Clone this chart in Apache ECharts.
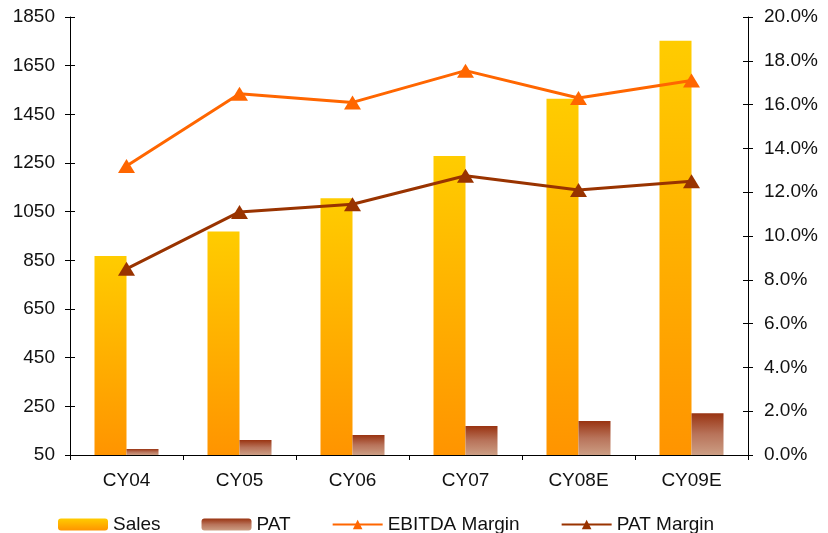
<!DOCTYPE html>
<html>
<head>
<meta charset="utf-8">
<script src="https://cdn.jsdelivr.net/npm/echarts@6/dist/echarts.min.js"></script>
<style>
  html, body { margin: 0; padding: 0; background: #fff; }
  #chart { width: 828px; height: 533px; }
</style>
</head>
<body>
<div id="chart"></div>
<script>
// Financial summary: Sales and PAT (left axis), margins in % (right axis)
const categories = ['CY04', 'CY05', 'CY06', 'CY07', 'CY08E', 'CY09E'];
const sales = [868, 968, 1105, 1279, 1514, 1752];
const pat = [75, 112, 132, 169, 190, 222];
const ebitdaMargin = [13.2, 16.5, 16.1, 17.55, 16.3, 17.1];
const patMargin = [8.5, 11.1, 11.45, 12.75, 12.1, 12.5];

const leftAxis = { min: 50, max: 1850, interval: 200 };
const rightAxis = { min: 0, max: 20, interval: 2 };

const FONT = 'Liberation Sans, Arial, sans-serif';
const TEXT = '#111';
const FS = 19;

const salesFill = new echarts.graphic.LinearGradient(0, 0, 0, 1, [
  { offset: 0, color: '#FFCC00' },
  { offset: 1, color: '#FF9400' }
]);
const patFill = new echarts.graphic.LinearGradient(0, 0, 0, 1, [
  { offset: 0, color: '#993311' },
  { offset: 0.5, color: '#B8735A' },
  { offset: 1, color: '#CC9E84' }
]);

const chart = echarts.init(document.getElementById('chart'), null, { renderer: 'canvas' });

const axisLine = { show: true, lineStyle: { color: '#000', width: 1 } };

chart.setOption({
  animation: false,
  backgroundColor: '#fff',
  textStyle: { fontFamily: FONT },
  grid: { left: 70, right: 80, top: 17, bottom: 78, containLabel: false },
  legend: {
    left: 53,
    top: 510,
    itemWidth: 50,
    itemHeight: 12,
    itemGap: 41,
    textStyle: { fontSize: FS, color: TEXT, fontFamily: FONT },
    data: ['Sales', 'PAT', 'EBITDA Margin', 'PAT Margin']
  },
  xAxis: {
    type: 'category',
    data: categories,
    axisLine: axisLine,
    axisTick: { show: true, alignWithLabel: false, length: 5, lineStyle: { color: '#000' } },
    axisLabel: { color: TEXT, fontSize: FS, margin: 16, fontFamily: FONT }
  },
  yAxis: [
    {
      type: 'value',
      position: 'left',
      min: leftAxis.min, max: leftAxis.max, interval: leftAxis.interval,
      axisLine: axisLine,
      axisTick: { show: true, length: 5, lineStyle: { color: '#000' } },
      splitLine: { show: false },
      axisLabel: { color: TEXT, fontSize: FS, margin: 15, fontFamily: FONT, formatter: v => String(v) }
    },
    {
      type: 'value',
      position: 'right',
      min: rightAxis.min, max: rightAxis.max, interval: rightAxis.interval,
      axisLine: axisLine,
      axisTick: { show: true, length: 5, lineStyle: { color: '#000' } },
      splitLine: { show: false },
      axisLabel: {
        color: TEXT, fontSize: FS, margin: 16, fontFamily: FONT,
        formatter: v => v.toFixed(1) + '%'
      }
    },
    // inner halves of the crossing tick marks
    {
      type: 'value',
      position: 'left',
      min: leftAxis.min, max: leftAxis.max, interval: leftAxis.interval,
      axisLine: { show: false },
      axisTick: { show: true, inside: true, length: 5, lineStyle: { color: '#000' } },
      axisLabel: { show: false },
      splitLine: { show: false }
    },
    {
      type: 'value',
      position: 'right',
      min: rightAxis.min, max: rightAxis.max, interval: rightAxis.interval,
      axisLine: { show: false },
      axisTick: { show: true, inside: true, length: 5, lineStyle: { color: '#000' } },
      axisLabel: { show: false },
      splitLine: { show: false }
    }
  ],
  series: [
    {
      name: 'Sales',
      type: 'bar',
      yAxisIndex: 0,
      data: sales,
      barWidth: 32,
      barGap: '0%',
      itemStyle: { color: salesFill }
    },
    {
      name: 'PAT',
      type: 'bar',
      yAxisIndex: 0,
      data: pat,
      barWidth: 32,
      barGap: '0%',
      itemStyle: { color: patFill }
    },
    {
      name: 'EBITDA Margin',
      type: 'line',
      yAxisIndex: 1,
      data: ebitdaMargin,
      symbol: 'triangle',
      symbolSize: [17, 14],
      lineStyle: { color: '#FF6600', width: 3 },
      itemStyle: { color: '#FF6600' },
      z: 5
    },
    {
      name: 'PAT Margin',
      type: 'line',
      yAxisIndex: 1,
      data: patMargin,
      symbol: 'triangle',
      symbolSize: [17, 14],
      lineStyle: { color: '#993300', width: 3 },
      itemStyle: { color: '#993300' },
      z: 5
    }
  ]
});
</script>
</body>
</html>
